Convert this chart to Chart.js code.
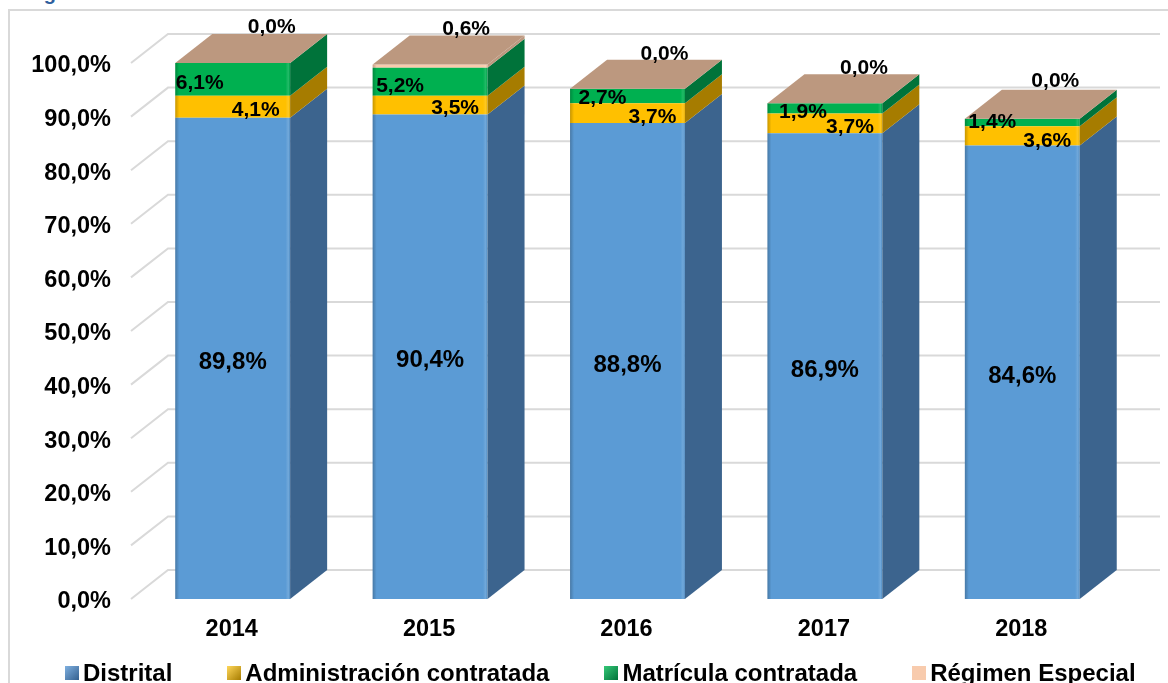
<!DOCTYPE html>
<html lang="es">
<head>
  <meta charset="UTF-8">
  <title>Matrícula por sector</title>
  <script src="https://cdn.jsdelivr.net/npm/chart.js@4"></script>
  <style>
    html, body { margin: 0; height: 100%; background: #fff; overflow: hidden; }
    body { position: relative; width: 1168px; height: 683px; font-family: "Liberation Sans", Arial, sans-serif; }
    .frame { position: absolute; left: 8px; top: 9px; width: 1200px; height: 720px; border: 2px solid #d9d9d9; }
    .heading { position: absolute; left: 17px; top: -19px; font-size: 20px; font-weight: bold; color: #2f5f9e; line-height: 24px; }
    #chartBox { position: absolute; left: 0; top: 0; width: 1168px; height: 683px; }
    #legend { position: absolute; left: 65px; top: 659px; display: flex; font-size: 24px; font-weight: bold; color: #000; line-height: 27px; white-space: nowrap; }
    #legend .item { display: flex; align-items: center; margin-right: 55px; }
    #legend .swatch { width: 14px; height: 14px; margin-right: 4px; box-sizing: border-box; }
  </style>
</head>
<body>
<div class="frame"></div>
<div class="heading">Bogotá</div>
<div id="chartBox"><canvas id="chart" width="1168" height="683"></canvas></div>
<div id="legend"></div>

<script>
  const years = ['2014', '2015', '2016', '2017', '2018'];
  const seriesNames = ['Distrital', 'Administración contratada', 'Matrícula contratada', 'Régimen Especial'];
  const distrital = [89.8, 90.4, 88.8, 86.9, 84.6];
  const administracion = [4.1, 3.5, 3.7, 3.7, 3.6];
  const matricula = [6.1, 5.2, 2.7, 1.9, 1.4];
  const regimen = [0.0, 0.6, 0.0, 0.0, 0.0];
  const yTicks = [0, 10, 20, 30, 40, 50, 60, 70, 80, 90, 100];

  const frontColors = ['#5b9bd5', '#ffc000', '#00b050', '#f8cbad'];
  const sideColors = ['#3c648e', '#a67c00', '#00733a', '#bc987f'];
  const swatches = [
    'linear-gradient(135deg, #7fb0e0, #34608f)',
    'linear-gradient(135deg, #ffd75a, #a67c00)',
    'linear-gradient(135deg, #35c877, #00733a)',
    '#f8cbad'
  ];
  const topColor = '#bc987f';
  const gridColor = '#d9d9d9';

  const depthX = 37, depthY = 29;
  // label offset from the centre of each segment, per series
  const labelShift = [[0, 4], [25, 4], [-32, 4], [37, -35]];
  // the labels sit a little unevenly in the original
  const labelNudgeX = [[0, 0, 0, 0, 0], [-2, 0, 0, 0, 0], [-1, 2, 7, 10, 2], [2, -1, 0, 2, -4]];
  const labelNudgeY = [[0, 0, 0, 0, 0], [0, -1, 0, 0, 1], [0, 0, -2, 0, -4], [-1, -2, 0, 0, -3]];

  const fmt = v => v.toFixed(1).replace('.', ',') + '%';
  const seriesValues = [distrital, administracion, matricula, regimen];

  function poly(ctx, pts, color) {
    ctx.fillStyle = color;
    ctx.beginPath();
    pts.forEach((p, i) => i ? ctx.lineTo(p[0], p[1]) : ctx.moveTo(p[0], p[1]));
    ctx.closePath();
    ctx.fill();
  }

  // fake 3D: back wall grid, side and top faces, then the labels
  const box3d = {
    id: 'box3d',
    beforeDatasetsDraw(chart) {
      const { ctx, chartArea, scales } = chart;
      ctx.save();
      ctx.strokeStyle = gridColor;
      ctx.lineWidth = 2;
      yTicks.forEach(t => {
        const y = scales.y.getPixelForValue(t);
        ctx.beginPath();
        ctx.moveTo(chartArea.left - 3, y);
        ctx.lineTo(chartArea.left - 3 + depthX, y - depthY);
        ctx.lineTo(chartArea.right + depthX + 2, y - depthY);
        ctx.stroke();
      });
      ctx.restore();
    },
    afterDatasetsDraw(chart) {
      const { ctx } = chart;
      const metas = seriesValues.map((s, i) => chart.getDatasetMeta(i));
      ctx.save();
      years.forEach((year, j) => {
        metas.forEach((meta, i) => {
          const bar = meta.data[j];
          const x = bar.x + bar.width / 2;
          if (Math.abs(bar.base - bar.y) < 0.01) return;
          poly(ctx, [[x, bar.base], [x + depthX, bar.base - depthY], [x + depthX, bar.y - depthY], [x, bar.y]], sideColors[i]);
        });
        // soft edges on the front face
        const first = metas[0].data[j];
        const last = metas[3].data[j];
        const l = first.x - first.width / 2, r = first.x + first.width / 2;
        const shade = ctx.createLinearGradient(l, 0, r, 0);
        shade.addColorStop(0, 'rgba(0,0,0,0.22)');
        shade.addColorStop(0.035, 'rgba(0,0,0,0)');
        shade.addColorStop(0.96, 'rgba(255,255,255,0)');
        shade.addColorStop(0.985, 'rgba(255,255,255,0.14)');
        shade.addColorStop(1, 'rgba(0,0,0,0.05)');
        ctx.fillStyle = shade;
        ctx.fillRect(l, last.y, r - l, first.base - last.y);
        poly(ctx, [[l, last.y], [r, last.y], [r + depthX, last.y - depthY], [l + depthX, last.y - depthY]], topColor);
      });

      ctx.fillStyle = '#000';
      ctx.textAlign = 'center';
      ctx.textBaseline = 'middle';
      metas.forEach((meta, i) => {
        ctx.font = 'bold ' + (i === 0 ? 24 : 21) + 'px "Liberation Sans", Arial, sans-serif';
        meta.data.forEach((bar, j) => {
          const mid = (bar.y + bar.base) / 2;
          ctx.fillText(fmt(seriesValues[i][j]), bar.x + labelShift[i][0] + labelNudgeX[i][j], mid + labelShift[i][1] + labelNudgeY[i][j]);
        });
      });
      ctx.restore();
    }
  };

  new Chart(document.getElementById('chart'), {
    type: 'bar',
    data: {
      labels: years,
      datasets: seriesValues.map((values, i) => ({
        label: seriesNames[i],
        data: values,
        backgroundColor: frontColors[i],
        barPercentage: 0.582,
        categoryPercentage: 1
      }))
    },
    options: {
      responsive: false,
      animation: false,
      layout: { padding: { top: 63, right: 47, left: 0, bottom: 0 } },
      plugins: { legend: { display: false }, tooltip: { enabled: false } },
      scales: {
        x: {
          stacked: true,
          grid: { display: false, drawTicks: false },
          border: { display: false },
          ticks: { color: '#000', padding: 16, labelOffset: -1, font: { family: '"Liberation Sans"', size: 23.5, weight: 'bold' } },
          afterFit(scale) { scale.height = 84; }
        },
        y: {
          stacked: true,
          min: 0,
          max: 100,
          grid: { display: false, drawTicks: false },
          border: { display: false },
          ticks: {
            stepSize: 10,
            color: '#000',
            padding: 23,
            labelOffset: 3,
            font: { family: '"Liberation Sans"', size: 23.5, weight: 'bold' },
            callback: v => fmt(v)
          },
          afterFit(scale) { scale.width = 134; }
        }
      }
    },
    plugins: [box3d]
  });

  document.getElementById('legend').innerHTML = seriesNames.map((name, i) =>
    `<div class="item"><span class="swatch" style="background:${swatches[i]}"></span>${name}</div>`
  ).join('');
</script>
</body>
</html>
